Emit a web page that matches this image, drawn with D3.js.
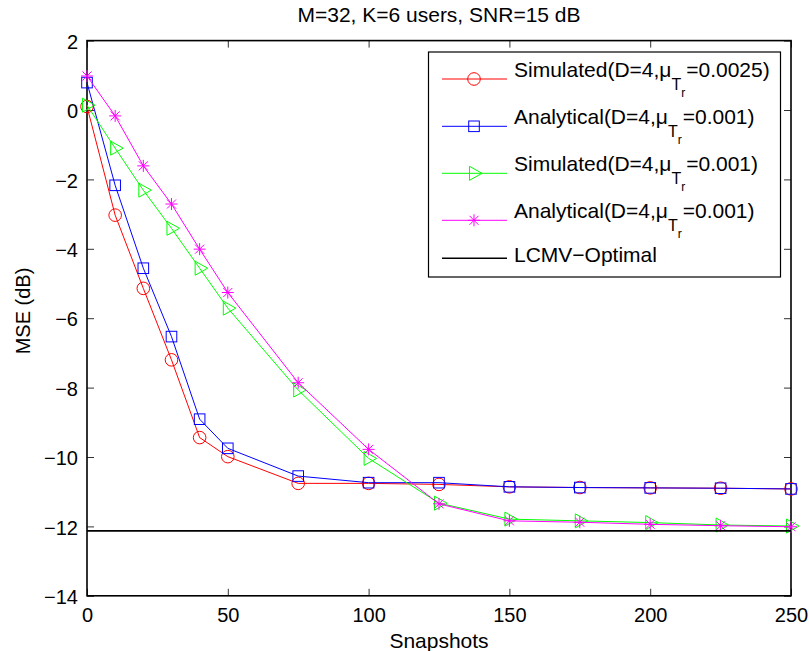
<!DOCTYPE html>
<html>
<head>
<meta charset="utf-8">
<script src="https://cdn.jsdelivr.net/npm/d3@7"></script>
<style>
  html, body { margin: 0; padding: 0; background: #fff; }
  svg { display: block; font-family: "Liberation Sans", Arial, Helvetica, sans-serif; }
</style>
</head>
<body>
<svg id="chart" width="809" height="651"></svg>
<script>
// ---- data ----
const snapshots = [0, 10, 20, 30, 40, 50, 75, 100, 125, 150, 175, 200, 225, 250];
const simulated0025 = [0.10, -3.03, -5.14, -7.20, -9.44, -9.99, -10.76, -10.76, -10.79, -10.86, -10.88, -10.89, -10.90, -10.92];
const analytical001a = [0.79, -2.17, -4.56, -6.53, -8.91, -9.75, -10.55, -10.74, -10.74, -10.86, -10.88, -10.89, -10.90, -10.92];
const simulated001 = [0.14, -1.10, -2.31, -3.41, -4.56, -5.71, -8.07, -10.04, -11.33, -11.79, -11.84, -11.89, -11.96, -11.99];
const analytical001b = [0.98, -0.17, -1.61, -2.71, -4.01, -5.26, -7.86, -9.78, -11.35, -11.84, -11.88, -11.94, -11.98, -12.01];
const lcmvOptimal = -12.13;
const xTicks = [0, 50, 100, 150, 200, 250];
const yTicks = [2, 0, -2, -4, -6, -8, -10, -12, -14];
const legendLabels = [
  {pre: "Simulated(D=4,μ", post: "=0.0025)"},
  {pre: "Analytical(D=4,μ", post: "=0.001)"},
  {pre: "Simulated(D=4,μ", post: "=0.001)"},
  {pre: "Analytical(D=4,μ", post: "=0.001)"},
  {pre: "LCMV−Optimal", post: null}
];
const titleText = "M=32, K=6 users, SNR=15 dB";
const xLabel = "Snapshots";
const yLabel = "MSE (dB)";

const series = [
  {values: simulated0025, color: "#ff0000", marker: "circle"},
  {values: analytical001a, color: "#0000ff", marker: "square"},
  {values: simulated001, color: "#00ff00", marker: "triangle"},
  {values: analytical001b, color: "#ff00ff", marker: "star"}
];

// ---- layout ----
const L = 87, R = 791, T = 40.6, B = 595.8;
const svg = d3.select("#chart");
const x = d3.scaleLinear().domain([0, 250]).range([L, R]);
const y = d3.scaleLinear().domain([-14, 2]).range([B, T]);

const fmt = d => d < 0 ? "−" + Math.abs(d) : String(d);

// axes with inward ticks
const gx = svg.append("g").attr("transform", `translate(0,${B})`)
  .call(d3.axisBottom(x).tickValues(xTicks).tickSize(-7).tickPadding(12).tickFormat(fmt));
const gy = svg.append("g").attr("transform", `translate(${L},0)`)
  .call(d3.axisLeft(y).tickValues(yTicks).tickSize(-7).tickPadding(9).tickFormat(fmt));
const gxt = svg.append("g").attr("transform", `translate(0,${T})`)
  .call(d3.axisTop(x).tickValues(xTicks).tickSize(-7).tickFormat(""));
const gyr = svg.append("g").attr("transform", `translate(${R},0)`)
  .call(d3.axisRight(y).tickValues(yTicks).tickSize(-7).tickFormat(""));
[gx, gy, gxt, gyr].forEach(g => {
  g.select(".domain").remove();
  g.selectAll(".tick line").attr("stroke", "#333").attr("stroke-width", 1);
  g.selectAll(".tick text").attr("font-size", 20).attr("fill", "#000")
    .attr("font-family", "'Liberation Sans', Arial, sans-serif");
});
gy.selectAll(".tick text").attr("dy", "0.38em");

// box
svg.append("rect").attr("x", L).attr("y", T).attr("width", R - L).attr("height", B - T)
  .attr("fill", "none").attr("stroke", "#000").attr("stroke-width", 1.6);

// markers
function drawMarker(g, type, color, cx, cy) {
  if (type === "circle") {
    g.append("circle").attr("cx", cx).attr("cy", cy).attr("r", 6.3)
      .attr("fill", "none").attr("stroke", color).attr("stroke-width", 1);
  } else if (type === "square") {
    g.append("rect").attr("x", cx - 5.3).attr("y", cy - 5.3).attr("width", 10.6).attr("height", 10.6)
      .attr("fill", "none").attr("stroke", color).attr("stroke-width", 1);
  } else if (type === "triangle") {
    g.append("path").attr("d", `M${cx - 4.5},${cy - 7}L${cx + 8},${cy}L${cx - 4.5},${cy + 7}Z`)
      .attr("fill", "none").attr("stroke", color).attr("stroke-width", 1);
  } else if (type === "star") {
    const r = 6, d = 4.5;
    g.append("path").attr("d",
      `M${cx - r},${cy}L${cx + r},${cy}M${cx},${cy - r}L${cx},${cy + r}` +
      `M${cx - d},${cy - d}L${cx + d},${cy + d}M${cx - d},${cy + d}L${cx + d},${cy - d}`)
      .attr("fill", "none").attr("stroke", color).attr("stroke-width", 1);
  }
}

const line = d3.line().x((d, i) => x(snapshots[i])).y(d => y(d));
series.forEach(s => {
  const g = svg.append("g");
  g.append("path").datum(s.values).attr("d", line)
    .attr("fill", "none").attr("stroke", s.color).attr("stroke-width", 1);
  s.values.forEach((v, i) => drawMarker(g, s.marker, s.color, x(snapshots[i]), y(v)));
});

// LCMV optimal line
svg.append("line").attr("x1", x(0)).attr("x2", x(250)).attr("y1", y(lcmvOptimal)).attr("y2", y(lcmvOptimal))
  .attr("stroke", "#000").attr("stroke-width", 1.6);

// title & labels
svg.append("text").attr("x", (L + R) / 2).attr("y", 22).attr("text-anchor", "middle")
  .attr("font-size", 21).text(titleText);
svg.append("text").attr("x", (L + R) / 2).attr("y", 648).attr("text-anchor", "middle")
  .attr("font-size", 21).text(xLabel);
svg.append("text").attr("transform", "translate(30,311) rotate(-90)").attr("text-anchor", "middle")
  .attr("font-size", 20).text(yLabel);

// legend
const lg = svg.append("g");
lg.append("rect").attr("x", 428.5).attr("y", 52).attr("width", 352).attr("height", 225)
  .attr("fill", "#fff").attr("stroke", "#000").attr("stroke-width", 1.2);
const rowY = [79, 126.3, 173.3, 220.3, 258.3];
const legendItems = series.map(s => ({color: s.color, marker: s.marker}))
  .concat([{color: "#000", marker: null}]);
legendItems.forEach((it, i) => {
  const yy = rowY[i];
  lg.append("line").attr("x1", 442).attr("x2", 507).attr("y1", yy).attr("y2", yy)
    .attr("stroke", it.color).attr("stroke-width", it.marker ? 1 : 1.6);
  if (it.marker) drawMarker(lg, it.marker, it.color, 474, yy);
  const lab = legendLabels[i];
  const t = lg.append("text").attr("x", 514).attr("font-size", 21);
  if (lab.post) {
    t.attr("y", yy - 2);
    t.append("tspan").text(lab.pre);
    t.append("tspan").attr("font-size", 16).attr("dy", 13).text("T");
    t.append("tspan").attr("font-size", 12).attr("dy", 7).text("r");
    t.append("tspan").attr("font-size", 21).attr("dx", 1).attr("dy", -20).text(lab.post);
  } else {
    t.attr("y", yy + 3.5).text(lab.pre);
  }
});
</script>
</body>
</html>
